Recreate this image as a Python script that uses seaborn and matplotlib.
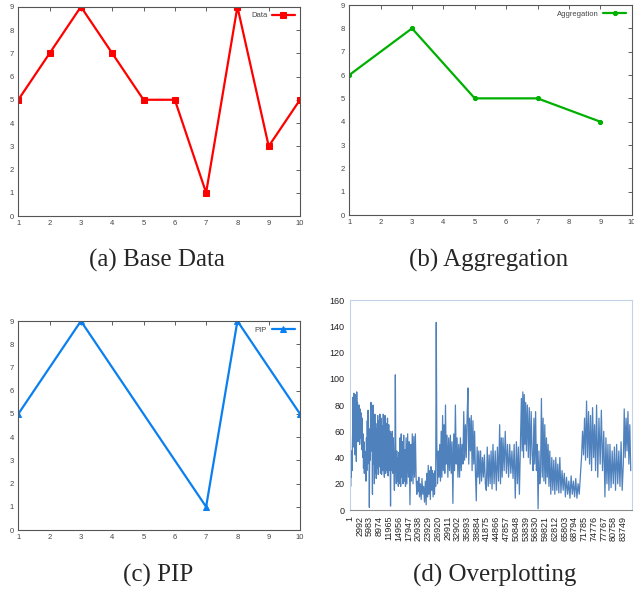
import numpy as np
import pandas as pd
import matplotlib
matplotlib.use("Agg")
import matplotlib.pyplot as plt
import seaborn as sns

# (a) base data, (b) aggregation, (c) PIP
base_x = [1, 2, 3, 4, 5, 6, 7, 8, 9, 10]
base_y = [5, 7, 9, 7, 5, 5, 1, 9, 3, 5]
agg_x = [1, 3, 5, 7, 9]
agg_y = [6, 8, 5, 5, 4]
pip_x = [1, 3, 7, 8, 10]
pip_y = [5, 9, 1, 9, 5]

# (d) overplotting: values, segment by segment
d_seg_start = [0, 820, 1840, 2660, 3890, 4920, 5940, 6450, 7480, 8500,
               9520, 10550, 11880, 12800, 13620, 14340, 15160, 17200, 20280, 21300,
               23350, 25900, 26620, 27950, 29490, 31540, 33590, 34610, 36150, 37170,
               38710, 39730, 41780, 43830, 45870, 46900, 48950, 51000, 52530, 54070,
               56120, 57650, 58670, 59700, 61240, 64310, 66360, 70960, 72500, 75570,
               78130, 79670, 83760]
d_end = 86320
d_seg_vals = [
    [20, 38, 18, 42, 25, 45, 30, 44],
    [60, 86, 48, 89, 55, 84, 42, 80],
    [88, 37, 90, 58, 82, 52, 79],
    [62, 80, 50, 77, 55, 74, 46, 70],
    [40, 58, 32, 52, 28, 45, 30, 40],
    [22, 55, 30, 68, 35, 76, 40, 62],
    [2, 55, 38, 75],
    [82, 45, 70, 12, 80, 35, 62],
    [20, 73, 28, 66, 24, 62, 32],
    [72, 27, 68, 33, 73, 28],
    [70, 27, 64, 30, 73, 32],
    [25, 72, 28, 66, 30, 70, 26],
    [65, 30, 60, 3, 58],
    [30, 60, 28, 55, 32],
    [15, 45, 103, 40, 20],
    [45, 22, 40, 18, 44],
    [20, 55, 18, 58, 25, 52, 20, 57, 22, 46, 18],
    [55, 20, 58, 25, 52, 4, 50, 22, 58, 20, 56, 25, 58],
    [24, 12, 22, 14, 25],
    [10, 20, 8, 24, 12, 18, 6, 22],
    [4, 28, 10, 34, 12, 30, 8, 33, 15, 30, 10, 28],
    [12, 30, 18, 143],
    [50, 20, 45, 25, 50, 22],
    [60, 25, 72, 30, 65, 28, 80],
    [35, 57, 25, 55, 30, 57, 28, 52],
    [5, 58, 30, 80, 35, 55, 25, 50],
    [25, 55, 30, 50],
    [35, 75, 38, 65, 40, 70],
    [93, 35, 70, 45],
    [72, 30, 68, 35, 60, 28],
    [7, 48, 25, 45],
    [20, 45, 22, 40, 25, 42, 20],
    [15, 48, 18, 42, 20, 45, 16],
    [50, 20, 45, 15, 48, 22],
    [65, 20, 55, 25],
    [55, 30, 60, 28, 50, 25],
    [50, 28, 45, 24, 50, 9],
    [52, 20, 48, 12, 50],
    [85, 45, 90, 40, 88, 50, 82],
    [45, 80, 40, 78, 35, 75, 42],
    [30, 70, 35, 75, 30, 50],
    [1, 45, 20, 30],
    [85, 25, 70, 22],
    [65, 20, 55, 25, 50, 18],
    [45, 12, 40, 15, 38, 12, 40, 15, 35, 13],
    [40, 13, 30, 15, 28, 10],
    [25, 12, 22, 9, 26, 12, 22, 10, 24, 9, 20, 12, 26],
    [40, 60, 42, 70, 38],
    [83, 40, 75, 35, 72, 30, 78, 40, 65, 30],
    [80, 25, 70, 35, 76, 30, 60],
    [10, 55, 20, 50, 15],
    [50, 17, 45, 20, 48, 15, 50, 20, 45, 18, 52, 15],
    [35, 77, 40, 70, 45, 75, 35, 65, 30],
]
d_ticks = [1, 2992, 5983, 8974, 11965, 14956, 17947, 20938, 23929, 26920,
           29911, 32902, 35893, 38884, 41875, 44866, 47857, 50848, 53839, 56830,
           59821, 62812, 65803, 68794, 71785, 74776, 77767, 80758, 83749]

captions = ["(a) Base Data", "(b) Aggregation", "(c) PIP", "(d) Overplotting"]

sns.set_style("white")
plt.rcParams["font.family"] = ["Liberation Sans", "DejaVu Sans"]

fig = plt.figure(figsize=(6.34, 5.92), dpi=100)
ax_a = fig.add_axes([0.0289, 0.6351, 0.4443, 0.3535])
ax_b = fig.add_axes([0.5509, 0.6368, 0.4454, 0.3547])
ax_c = fig.add_axes([0.0289, 0.1047, 0.4443, 0.3530])
ax_d = fig.add_axes([0.5520, 0.1385, 0.4443, 0.3547])


def gnuplot_panel(ax, x, y, label, color, marker, ms):
    df = pd.DataFrame({"x": x, "y": y})
    sns.lineplot(data=df, x="x", y="y", ax=ax, color=color, marker=marker,
                 markersize=ms, markeredgecolor=color, linewidth=1.6, label=label)
    ax.set_xlim(1, 10)
    ax.set_ylim(0, 9)
    ax.set_xticks(range(1, 11))
    ax.set_yticks(range(0, 10))
    ax.tick_params(direction="in", top=True, right=True, length=3, width=0.6,
                   labelsize=5.5, colors="#444444", pad=3)
    for s in ax.spines.values():
        s.set_color("#555555")
        s.set_linewidth(0.8)
    ax.set_xlabel("")
    ax.set_ylabel("")
    ax.legend(loc="upper right", frameon=False, markerfirst=False, fontsize=5.5,
              handlelength=3, handletextpad=0.6, borderaxespad=0.3,
              labelcolor="#444444")


gnuplot_panel(ax_a, base_x, base_y, "Data", "#ff0000", "s", 3.8)
gnuplot_panel(ax_b, agg_x, agg_y, "Aggregation", "#00b000", "o", 3)
gnuplot_panel(ax_c, pip_x, pip_y, "PIP", "#0a80f0", "^", 4)

# (d) overplotting
xs, ys = [], []
for i, vals in enumerate(d_seg_vals):
    end = d_seg_start[i + 1] if i + 1 < len(d_seg_start) else d_end
    xs.extend(np.linspace(d_seg_start[i], end, len(vals), endpoint=False))
    ys.extend(vals)
ddf = pd.DataFrame({"x": xs, "y": ys})
sns.lineplot(data=ddf, x="x", y="y", ax=ax_d, color="#4f81bd", linewidth=0.9)
ax_d.set_xlim(1, d_end)
ax_d.set_ylim(0, 160)
ax_d.set_yticks(range(0, 161, 20))
ax_d.set_xticks(d_ticks)
ax_d.set_xticklabels([str(t) for t in d_ticks], rotation=90)
ax_d.tick_params(axis="y", length=0, labelsize=6.5, pad=4, colors="#222222")
ax_d.tick_params(axis="x", length=3, width=0.5, direction="out", labelsize=6.5,
                 pad=1, colors="#222222")
ax_d.tick_params(axis="x", color="#8c8c8c")
for name, s in ax_d.spines.items():
    s.set_color("#c3d2e6")
    s.set_linewidth(0.8)
ax_d.spines["bottom"].set_color("#8c8c8c")
ax_d.set_xlabel("")
ax_d.set_ylabel("")

cap_pos = [(0.2476, 0.5608), (0.770, 0.5608), (0.249, 0.0287), (0.781, 0.0287)]
for (cx, cy), txt in zip(cap_pos, captions):
    fig.text(cx, cy, txt, ha="center", va="center", fontsize=18,
             family=["Liberation Serif", "DejaVu Serif"])

fig.savefig("out.png", dpi=100)
